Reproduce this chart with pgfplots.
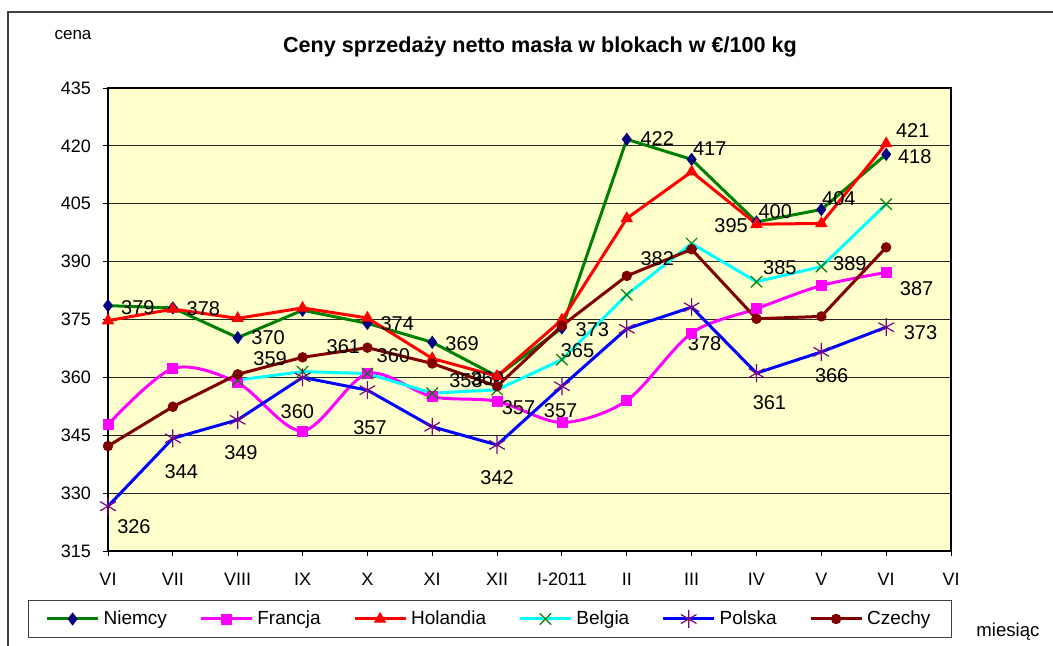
\documentclass[border=0pt]{standalone}
\usepackage{fontspec}
\setmainfont{Liberation Sans}
\usepackage{pgfplots}
\pgfplotsset{compat=1.18}
\begin{document}
\begin{tikzpicture}

\definecolor{plotbg}{RGB}{255,255,204}
\definecolor{niemcyline}{RGB}{0,128,0}
\definecolor{navy}{RGB}{0,0,128}
\definecolor{magentax}{RGB}{255,0,255}
\definecolor{redx}{RGB}{255,0,0}
\definecolor{cyanx}{RGB}{0,255,255}
\definecolor{greenx}{RGB}{0,128,0}
\definecolor{bluex}{RGB}{0,0,255}
\definecolor{purplex}{RGB}{128,0,128}
\definecolor{darkredx}{RGB}{128,0,0}
\definecolor{framegray}{RGB}{64,64,64}

\useasboundingbox (-54pt,-47pt) rectangle (472.5pt,275.5pt);

\begin{axis}[
scale only axis,
width=421.5pt, height=231.5pt,
at={(0,0)}, anchor=south west,
clip=false,
xmin=0, xmax=13,
ymin=315, ymax=435,
xtick={0,1,2,3,4,5,6,7,8,9,10,11,12,13},
xticklabels={VI,VII,VIII,IX,X,XI,XII,I-2011,II,III,IV,V,VI,VI},
ytick={315,330,345,360,375,390,405,420,435},
ymajorgrids,
y grid style={black!85, line width=0.5pt},
tick align=outside,
tick pos=left,
major tick length=2.5pt,
tick style={black, line width=0.5pt},
axis line style={black, line width=0.6pt},
axis background/.style={fill=plotbg},
tick label style={font=\fontsize{9}{10}\selectfont},
/pgf/number format/assume math mode=true,
yticklabel style={xshift=-2.5pt},
xticklabel style={yshift=-5pt},
legend columns=6,
legend cell align={left},
legend style={
  at={(-0.0949,-0.1058)}, anchor=north west,
  draw=framegray, line width=0.6pt,
  font=\fontsize{9.5}{10}\selectfont,
  inner xsep=8.5pt, inner ysep=3pt,
  /tikz/every even column/.append style={column sep=14.2pt}
},
legend image code/.code={
  \draw[mark repeat=2,mark phase=2] plot coordinates {(0pt,0pt) (12.75pt,0pt) (25.5pt,0pt)};
},
every node/.append style={font=\fontsize{8.3}{10}\selectfont},
]

\addplot [line width=1.5pt, niemcyline, mark=diamond*, mark size=3pt,
  mark options={solid, fill=navy, draw=navy, line width=0.4pt}]
table {%
0 378.6
1 378.0
2 370.3
3 377.4
4 374.0
5 369.1
6 360.3
7 372.8
8 421.7
9 416.5
10 400.3
11 403.5
12 417.8
};
\addlegendentry{Niemcy}

\addplot [line width=1.5pt, magentax, smooth, tension=0.5, mark=square*, mark size=2.5pt,
  mark options={solid, fill=magentax, draw=magentax, line width=0.4pt}]
table {%
0 347.8
1 362.3
2 358.6
3 346.1
4 361.0
5 355.0
6 353.8
7 348.3
8 354.0
9 371.5
10 377.8
11 383.8
12 387.2
};
\addlegendentry{Francja}

\addplot [line width=1.5pt, redx, mark=triangle*, mark size=3.2pt,
  mark options={solid, fill=redx, draw=redx, line width=0.4pt}]
table {%
0 374.7
1 377.7
2 375.3
3 378.0
4 375.4
5 364.9
6 360.3
7 374.9
8 401.2
9 413.3
10 399.7
11 399.9
12 420.6
};
\addlegendentry{Holandia}

\addplot [line width=1.5pt, cyanx, mark=x, mark size=4pt,
  mark options={solid, draw=greenx, line width=0.6pt}]
table {%
2 359.3
3 361.5
4 361.0
5 355.9
6 356.8
7 364.6
8 381.4
9 394.7
10 384.8
11 388.7
12 404.9
};
\addlegendentry{Belgia}

\addplot [line width=1.5pt, bluex, mark=asterisk, mark size=4.5pt,
  mark options={solid, draw=purplex, line width=0.6pt}]
table {%
0 326.6
1 344.2
2 349.0
3 360.0
4 356.7
5 347.2
6 342.5
7 357.7
8 372.6
9 378.2
10 361.1
11 366.6
12 373.0
};
\addlegendentry{Polska}

\addplot [line width=1.5pt, darkredx, mark=*, mark size=2.4pt,
  mark options={solid, fill=darkredx, draw=darkredx, line width=0.4pt}]
table {%
0 342.2
1 352.4
2 360.8
3 365.2
4 367.7
5 363.6
6 357.7
7 373.4
8 386.3
9 393.2
10 375.2
11 375.8
12 393.7
};
\addlegendentry{Czechy}

% data labels
\node at (axis cs:0.46,378.1) {379};
\node at (axis cs:1.47,377.8) {378};
\node at (axis cs:2.47,370.4) {370};
\node at (axis cs:2.50,364.9) {359};
\node at (axis cs:3.63,368.0) {361};
\node at (axis cs:4.40,365.7) {360};
\node at (axis cs:4.46,374.0) {374};
\node at (axis cs:5.46,368.8) {369};
\node at (axis cs:2.92,351.2) {360};
\node at (axis cs:4.04,347.1) {357};
\node at (axis cs:2.05,340.6) {349};
\node at (axis cs:1.13,335.7) {344};
\node at (axis cs:0.40,321.2) {326};
\node at (axis cs:5.52,359.2) {358};
\node at (axis cs:5.85,359.7) {360};
\node at (axis cs:6.33,352.2) {357};
\node at (axis cs:6.00,334.1) {342};
\node at (axis cs:6.98,351.5) {357};
\node at (axis cs:7.24,367.0) {365};
\node at (axis cs:7.47,372.4) {373};
\node at (axis cs:8.47,421.8) {422};
\node at (axis cs:9.28,419.2) {417};
\node at (axis cs:8.47,390.8) {382};
\node at (axis cs:9.20,368.8) {378};
\node at (axis cs:9.61,399.3) {395};
\node at (axis cs:10.29,402.9) {400};
\node at (axis cs:11.27,406.3) {404};
\node at (axis cs:10.36,388.5) {385};
\node at (axis cs:11.44,389.5) {389};
\node at (axis cs:12.41,424.1) {421};
\node at (axis cs:12.44,417.2) {418};
\node at (axis cs:12.47,383.0) {387};
\node at (axis cs:12.53,371.6) {373};
\node at (axis cs:10.20,353.5) {361};
\node at (axis cs:11.16,360.5) {366};
\end{axis}

% chart frame, title and axis captions
\draw[framegray, line width=0.75pt] (-50pt,-60pt) -- (-50pt,269.5pt) -- (490pt,269.5pt);
\node[font=\bfseries\fontsize{10.8}{12}\selectfont] at (216pt,252pt) {Ceny sprzedaży netto masła w blokach w €/100 kg};
\node[font=\fontsize{8.5}{10}\selectfont] at (-17.5pt,258pt) {cena};
\node[font=\fontsize{9.3}{10}\selectfont, anchor=west, inner sep=0pt] at (434pt,-40.5pt) {miesiąc};

\end{tikzpicture}
\end{document}
